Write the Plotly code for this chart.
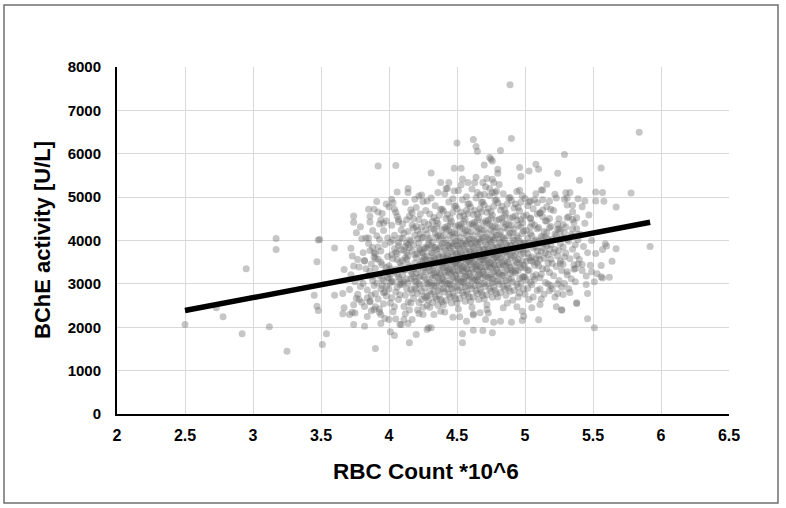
import plotly.graph_objects as go

# ---- data: (RBC count *10^6, BChE activity U/L) ----
edge_points = [
    (2.50,2062),(2.73,2448),(2.78,2240),(2.92,1848),(2.95,3349),(3.12,2009),(3.17,3795),(3.17,4048),
    (3.25,1446),(3.45,2739),(3.47,2485),(3.48,2386),(3.47,3510),(3.48,4009),(3.51,1600),(3.54,1848),
    (3.49,4025),(3.60,3825),(3.60,2739),(3.66,2778),(3.67,2448),(3.66,2309),(3.71,2293),(3.73,2347),
    (3.74,2062),(3.82,2023),(3.67,3333),(3.74,3410),(3.82,3525),(3.86,3772),(3.90,1508),(3.94,2085),
    (3.94,2293),(4.00,2178),(4.01,1894),(4.04,1808),(4.15,1640),(4.20,1831),(4.28,1947),(4.31,1986),
    (4.08,2062),(4.14,2085),(4.11,2178),(4.17,2178),(4.22,2316),(4.25,2293),(4.33,2293),(4.38,2370),
    (4.47,2231),(4.57,2139),(4.62,2309),(4.67,2332),(4.72,2409),(4.54,1640),(4.54,1848),(4.62,1931),
    (4.69,1924),(4.76,1871),(4.71,2178),(4.77,2116),(4.82,2139),(4.90,2116),(4.98,2155),(4.99,2254),
    (4.98,2370),(4.94,2471),(4.84,2448),(5.10,2171),(5.11,2524),(5.05,2448),(5.23,2471),(5.27,2401),
    (5.24,2778),(5.28,2755),(5.32,2887),(5.38,2547),(5.45,2986),(5.46,2194),(5.51,1986),(5.51,3048),
    (5.49,3282),(5.53,3236),(5.56,3166),(5.57,3135),(5.62,3150),(5.56,3425),(5.64,3524),(5.52,3702),
    (5.57,3794),(5.59,3926),(5.60,3871),(5.67,3810),(5.92,3864),(5.42,3448),(5.37,3356),(5.36,3441),
    (5.31,3279),(5.26,3471),(5.67,4771),(5.58,4903),(5.57,5104),(5.78,5095),(5.56,5672),(5.84,6497),
    (5.52,5118),(5.52,4910),(5.44,4910),(5.35,4811),(5.39,4965),(5.33,5104),(5.31,4980),(5.30,5100),
    (5.22,5065),(5.29,4949),(5.18,4903),(5.19,4718),(5.13,4702),(5.04,4903),(5.09,4873),(5.04,4510),
    (5.11,4626),(5.13,4550),(5.24,4372),(5.25,4272),(5.18,4296),(5.16,4448),(5.31,4527),(5.35,4487),
    (5.38,4527),(5.35,4272),(5.39,4141),(5.35,4102),(5.31,4025),(5.12,5165),(5.13,5165),(4.96,5157),
    (5.16,5296),(5.40,5388),(5.24,5550),(5.29,5981),(5.10,5642),(5.08,5757),(5.03,5603),(4.96,5681),
    (4.97,5473),(4.80,5642),(4.80,5550),(4.76,5830),(4.75,5873),(4.70,5741),(4.82,6074),(4.90,6351),
    (4.89,7589),(4.50,6250),(4.62,6328),(4.64,6166),(4.65,6058),(4.74,5912),(4.53,5665),(4.48,5665),
    (4.31,5557),(4.05,5727),(3.92,5718),(4.06,5118),(4.14,5196),(4.14,5104),(4.22,5026),(4.19,4949),
    (4.28,4910),(4.02,4949),(3.74,4564),(3.89,4718),(3.92,4656),(3.86,4425),(3.79,4318),(3.80,4041),
    (3.85,4055),(3.93,4025),(3.96,4395),(3.98,4448),(4.04,4718),(4.07,4487),(4.38,5335),(4.42,5196),
    (4.44,5335),(4.48,5141),(4.58,5335),(4.36,5104),(4.69,5335),(4.72,5427),(4.76,5411),(4.77,5335),
    (4.65,5104),(4.70,5065),(4.76,5104),(4.79,5141),(3.76,2670),(3.80,2578),(3.84,2679),(3.86,2601),
    (3.89,2409),(3.90,2471),(3.93,2347),(3.89,3718),(3.90,3580),(3.88,3178),(3.95,3118),(3.98,2947),
    (3.96,2794),(4.01,3025),(4.09,2062),(4.29,1986),(5.27,2393),(5.38,2563),
]

core_low = [
    (3.71,2870),(3.72,3210),(3.73,3640),(3.74,2520),(3.75,3050),(3.76,4180),(3.77,2760),(3.78,3390),
    (3.79,2940),(3.72,3820),(3.75,2330),(3.77,3560),(3.79,3130),(3.74,4420),(3.78,2640),
    (3.81,3010),(3.81,3720),(3.82,2480),(3.83,3350),(3.83,4060),(3.84,2860),(3.85,3190),(3.85,3930),
    (3.86,2590),(3.86,4560),(3.87,3460),(3.87,2740),(3.88,3080),(3.88,4230),(3.89,3620),(3.89,2960),
    (3.82,3540),(3.84,2250),(3.85,4720),(3.86,3290),(3.88,3840),(3.87,2380),
    (3.90,3360),(3.90,2780),(3.91,4110),(3.91,3020),(3.92,3570),(3.92,2650),(3.93,4380),(3.93,3190),
    (3.94,2890),(3.94,3760),(3.95,4620),(3.95,3440),(3.96,2540),(3.96,3080),(3.97,3910),(3.97,3280),
    (3.98,4840),(3.98,2720),(3.99,3630),(3.99,3150),(3.91,4900),(3.92,3850),(3.93,2420),(3.94,3500),
    (3.95,2960),(3.96,4230),(3.97,2810),(3.98,3380),(3.99,4060),(3.90,3700),(3.94,4470),(3.97,2200),
    (4.00,3420),(4.00,2880),(4.01,3960),(4.01,3210),(4.02,4350),(4.02,2680),(4.03,3580),(4.03,3050),
    (4.04,4120),(4.04,2470),(4.05,3730),(4.05,3340),(4.06,2920),(4.06,4560),(4.07,3160),(4.07,3880),
    (4.08,2750),(4.08,3490),(4.09,4240),(4.09,3020),(4.00,4780),(4.01,2560),(4.02,3670),(4.03,4010),
    (4.04,3280),(4.05,2810),(4.06,3560),(4.07,4430),(4.08,3100),(4.09,3790),(4.01,3350),(4.03,2360),
    (4.05,4650),(4.06,3230),(4.07,2640),(4.08,4050),(4.09,3420),(4.02,3060),(4.04,3810),(4.06,3700),
    (4.08,2980),(4.00,3140),(4.03,4870),(4.05,2190),(4.07,3950),
    (4.10,3540),(4.10,2990),(4.11,4170),(4.11,3320),(4.12,2740),(4.12,3860),(4.13,4480),(4.13,3110),
    (4.14,3650),(4.14,2580),(4.15,4020),(4.15,3390),(4.16,2870),(4.16,4710),(4.17,3230),(4.17,3760),
    (4.18,4290),(4.18,2660),(4.19,3480),(4.19,3070),(4.10,4380),(4.11,2480),(4.12,3600),(4.13,3940),
    (4.14,3020),(4.15,4560),(4.16,3290),(4.17,2790),(4.18,3900),(4.19,4120),(4.10,3210),(4.11,3770),
    (4.12,4880),(4.13,2890),(4.14,3440),(4.15,2400),(4.16,3980),(4.17,4350),(4.18,3160),(4.19,3680),
    (4.11,3050),(4.12,2310),(4.13,3570),(4.14,4210),(4.15,3830),(4.16,2560),(4.17,4640),(4.18,3350),
    (4.19,2920),(4.10,4050),(4.12,3330),(4.14,3900),(4.16,3120),(4.18,4500),(4.13,3720),
    (4.20,3610),(4.20,3050),(4.21,4230),(4.21,2780),(4.22,3420),(4.22,3940),(4.23,4610),(4.23,3180),
    (4.24,2640),(4.24,3720),(4.25,4080),(4.25,3300),(4.26,2900),(4.26,4420),(4.27,3560),(4.27,3850),
    (4.28,2720),(4.28,4150),(4.29,3390),(4.29,3000),(4.20,4760),(4.21,3330),(4.22,2570),(4.23,3780),
    (4.24,4310),(4.25,3560),(4.26,3150),(4.27,4690),(4.28,3470),(4.29,3900),(4.20,2880),(4.21,3690),
    (4.22,4480),(4.23,2980),(4.24,3520),(4.25,2460),(4.26,3810),(4.27,3100),(4.28,3640),(4.29,4370),
    (4.20,3240),(4.21,4040),(4.22,3160),(4.23,3450),(4.24,2830),(4.25,4900),(4.26,3620),(4.27,2680),
    (4.28,3020),(4.29,4010),(4.21,2400),(4.23,4150),(4.25,3720),(4.27,3270),(4.29,2620),(4.22,3820),
    (4.24,4060),(4.26,3380),(4.28,2500),(4.20,4320),(4.24,5050),(4.26,2720),(4.28,3830),(4.22,3010),
    (4.27,4250),
]

core_mid = [
    (4.30,3550),(4.30,3040),(4.31,4280),(4.31,2760),(4.32,3710),(4.32,3330),(4.33,4530),(4.33,2960),
    (4.34,3840),(4.34,3180),(4.35,4080),(4.35,2650),(4.36,3490),(4.36,4390),(4.37,3070),(4.37,3620),
    (4.38,4720),(4.38,2880),(4.39,3380),(4.39,3930),(4.30,4610),(4.31,3470),(4.32,2570),(4.33,3600),
    (4.34,4170),(4.35,3270),(4.36,2840),(4.37,4010),(4.38,3500),(4.39,3120),(4.30,2830),(4.31,3880),
    (4.32,4440),(4.33,3250),(4.34,2700),(4.35,3780),(4.36,3150),(4.37,4580),(4.38,3230),(4.39,4250),
    (4.30,3310),(4.31,2970),(4.32,3960),(4.33,3420),(4.34,4800),(4.35,3020),(4.36,3680),(4.37,2730),
    (4.38,3860),(4.39,2590),(4.30,4050),(4.31,3720),(4.32,3130),(4.33,4260),(4.34,3560),(4.35,4460),
    (4.36,2510),(4.37,3390),(4.38,4100),(4.39,3640),(4.30,2460),(4.32,3550),(4.34,2950),(4.36,4120),
    (4.38,2640),(4.31,4980),(4.33,3830),(4.35,3510),(4.37,3240),(4.39,4720),(4.31,3200),(4.33,2820),
    (4.35,4320),(4.37,3810),(4.39,3010),
    (4.40,3620),(4.40,3090),(4.41,4300),(4.41,2810),(4.42,3760),(4.42,3410),(4.43,4600),(4.43,3000),
    (4.44,3880),(4.44,3260),(4.45,4120),(4.45,2700),(4.46,3530),(4.46,4440),(4.47,3150),(4.47,3700),
    (4.48,4790),(4.48,2930),(4.49,3450),(4.49,3990),(4.40,4680),(4.41,3520),(4.42,2620),(4.43,3650),
    (4.44,4230),(4.45,3330),(4.46,2890),(4.47,4080),(4.48,3560),(4.49,3200),(4.40,2880),(4.41,3940),
    (4.42,4510),(4.43,3310),(4.44,2760),(4.45,3830),(4.46,3220),(4.47,4650),(4.48,3290),(4.49,4320),
    (4.40,3370),(4.41,3030),(4.42,4020),(4.43,3480),(4.44,4890),(4.45,3080),(4.46,3740),(4.47,2790),
    (4.48,3920),(4.49,2650),(4.40,4110),(4.41,3780),(4.42,3190),(4.43,4330),(4.44,3610),(4.45,4520),
    (4.46,2560),(4.47,3440),(4.48,4170),(4.49,3700),(4.40,2520),(4.42,3600),(4.44,3010),(4.46,4190),
    (4.48,2710),(4.41,5080),(4.43,3890),(4.45,3570),(4.47,3300),(4.49,4800),(4.41,3260),(4.43,2880),
    (4.45,4380),(4.47,3870),(4.49,3060),(4.40,3500),(4.42,4260),(4.44,3350),(4.46,3950),(4.48,3470),
    (4.41,2350),(4.43,5200),(4.45,2980),(4.47,4960),(4.49,3560),
    (4.50,3680),(4.50,3130),(4.51,4350),(4.51,2850),(4.52,3800),(4.52,3450),(4.53,4650),(4.53,3050),
    (4.54,3920),(4.54,3300),(4.55,4160),(4.55,2740),(4.56,3580),(4.56,4490),(4.57,3190),(4.57,3740),
    (4.58,4840),(4.58,2970),(4.59,3500),(4.59,4030),(4.50,4730),(4.51,3560),(4.52,2660),(4.53,3700),
    (4.54,4280),(4.55,3380),(4.56,2930),(4.57,4120),(4.58,3610),(4.59,3240),(4.50,2920),(4.51,3990),
    (4.52,4560),(4.53,3360),(4.54,2800),(4.55,3870),(4.56,3270),(4.57,4700),(4.58,3340),(4.59,4370),
    (4.50,3410),(4.51,3080),(4.52,4070),(4.53,3520),(4.54,4940),(4.55,3120),(4.56,3790),(4.57,2830),
    (4.58,3970),(4.59,2690),(4.50,4160),(4.51,3820),(4.52,3230),(4.53,4380),(4.54,3660),(4.55,4570),
    (4.56,2600),(4.57,3490),(4.58,4220),(4.59,3750),(4.50,2560),(4.52,3650),(4.54,3060),(4.56,4240),
    (4.58,2760),(4.51,5150),(4.53,3940),(4.55,3620),(4.57,3350),(4.59,4850),(4.51,3300),(4.53,2920),
    (4.55,4430),(4.57,3920),(4.59,3100),(4.50,3550),(4.52,4310),(4.54,3400),(4.56,4000),(4.58,3520),
    (4.51,2420),(4.53,5280),(4.55,3030),(4.57,5010),(4.59,3610),(4.52,2240),(4.54,5420),(4.56,3170),
    (4.58,4620),(4.50,3880),
    (4.60,3720),(4.60,3170),(4.61,4390),(4.61,2890),(4.62,3840),(4.62,3490),(4.63,4690),(4.63,3090),
    (4.64,3960),(4.64,3340),(4.65,4200),(4.65,2780),(4.66,3620),(4.66,4530),(4.67,3230),(4.67,3780),
    (4.68,4880),(4.68,3010),(4.69,3540),(4.69,4070),(4.60,4770),(4.61,3600),(4.62,2700),(4.63,3740),
    (4.64,4320),(4.65,3420),(4.66,2970),(4.67,4160),(4.68,3650),(4.69,3280),(4.60,2960),(4.61,4030),
    (4.62,4600),(4.63,3400),(4.64,2840),(4.65,3910),(4.66,3310),(4.67,4740),(4.68,3380),(4.69,4410),
    (4.60,3450),(4.61,3120),(4.62,4110),(4.63,3560),(4.64,4980),(4.65,3160),(4.66,3830),(4.67,2870),
    (4.68,4010),(4.69,2730),(4.60,4200),(4.61,3860),(4.62,3270),(4.63,4420),(4.64,3700),(4.65,4610),
    (4.66,2640),(4.67,3530),(4.68,4260),(4.69,3790),(4.60,2600),(4.62,3690),(4.64,3100),(4.66,4280),
    (4.68,2800),(4.61,5190),(4.63,3980),(4.65,3660),(4.67,3390),(4.69,4890),(4.61,3340),(4.63,2960),
    (4.65,4470),(4.67,3960),(4.69,3140),(4.60,3590),(4.62,4350),(4.64,3440),(4.66,4040),(4.68,3560),
    (4.61,2460),(4.63,5330),(4.65,3070),(4.67,5050),(4.69,3650),(4.62,2280),(4.64,5460),(4.66,3210),
    (4.68,4660),(4.60,3920),
]

core_high = [
    (4.70,3780),(4.70,3220),(4.71,4450),(4.71,2940),(4.72,3900),(4.72,3550),(4.73,4740),(4.73,3150),
    (4.74,4010),(4.74,3390),(4.75,4250),(4.75,2830),(4.76,3680),(4.76,4580),(4.77,3280),(4.77,3830),
    (4.78,4930),(4.78,3060),(4.79,3600),(4.79,4120),(4.70,4820),(4.71,3650),(4.72,2750),(4.73,3800),
    (4.74,4370),(4.75,3470),(4.76,3020),(4.77,4210),(4.78,3700),(4.79,3330),(4.70,3010),(4.71,4080),
    (4.72,4650),(4.73,3450),(4.74,2890),(4.75,3960),(4.76,3360),(4.77,4790),(4.78,3430),(4.79,4460),
    (4.70,3500),(4.71,3170),(4.72,4160),(4.73,3610),(4.74,5030),(4.75,3210),(4.76,3880),(4.77,2920),
    (4.78,4060),(4.79,2780),(4.70,4250),(4.71,3910),(4.72,3320),(4.73,4470),(4.74,3750),(4.75,4660),
    (4.76,2690),(4.77,3580),(4.78,4310),(4.79,3840),(4.70,2650),(4.72,3740),(4.74,3150),(4.76,4330),
    (4.78,2850),(4.71,5240),(4.73,4030),(4.75,3710),(4.77,3440),(4.79,4940),(4.71,3390),(4.73,3010),
    (4.75,4520),(4.77,4010),(4.79,3190),(4.70,3640),(4.72,4400),(4.74,3490),(4.76,4090),(4.78,3610),
    (4.72,2520),(4.74,5200),(4.76,3120),(4.78,5100),(4.73,2330),
    (4.80,3830),(4.80,3270),(4.81,4490),(4.81,2990),(4.82,3950),(4.82,3600),(4.83,4790),(4.83,3200),
    (4.84,4060),(4.84,3440),(4.85,4300),(4.85,2880),(4.86,3730),(4.86,4630),(4.87,3330),(4.87,3880),
    (4.88,4980),(4.88,3110),(4.89,3650),(4.89,4170),(4.80,4870),(4.81,3700),(4.82,2800),(4.83,3850),
    (4.84,4420),(4.85,3520),(4.86,3070),(4.87,4260),(4.88,3750),(4.89,3380),(4.80,3060),(4.81,4130),
    (4.82,4700),(4.83,3500),(4.84,2940),(4.85,4010),(4.86,3410),(4.87,4840),(4.88,3480),(4.89,4510),
    (4.80,3550),(4.81,3220),(4.82,4210),(4.83,3660),(4.84,5080),(4.85,3260),(4.86,3930),(4.87,2970),
    (4.88,4110),(4.89,2830),(4.80,4300),(4.81,3960),(4.82,3370),(4.83,4520),(4.84,3800),(4.85,4710),
    (4.86,2740),(4.87,3630),(4.88,4360),(4.89,3890),(4.80,2700),(4.82,3790),(4.84,3200),(4.86,4380),
    (4.88,2900),(4.81,5290),(4.83,4080),(4.85,3760),(4.87,3490),(4.89,4990),(4.81,3440),(4.83,3060),
    (4.85,4570),(4.87,2560),(4.89,3240),
    (4.90,3880),(4.90,3320),(4.91,4540),(4.91,3040),(4.92,4000),(4.92,3650),(4.93,4840),(4.93,3250),
    (4.94,4110),(4.94,3490),(4.95,4350),(4.95,2930),(4.96,3780),(4.96,4680),(4.97,3380),(4.97,3930),
    (4.98,5030),(4.98,3160),(4.99,3700),(4.99,4220),(4.90,4920),(4.91,3750),(4.92,2850),(4.93,3900),
    (4.94,4470),(4.95,3570),(4.96,3120),(4.97,4310),(4.98,3800),(4.99,3430),(4.90,3110),(4.91,4180),
    (4.92,4750),(4.93,3550),(4.94,2990),(4.95,4060),(4.96,3460),(4.97,4890),(4.98,3530),(4.99,4560),
    (4.90,3600),(4.91,3270),(4.92,4260),(4.93,3710),(4.94,5130),(4.95,3310),(4.96,3980),(4.97,3020),
    (4.98,4160),(4.99,2880),(4.90,4350),(4.91,4010),(4.92,3420),(4.93,4570),(4.94,3850),(4.95,4760),
    (4.96,2790),(4.97,3680),(4.98,4410),(4.99,3940),(4.91,2620),(4.93,3300),(4.95,2700),(4.97,4480),
    (4.99,3170),
    (5.00,3930),(5.00,3370),(5.01,4590),(5.01,3090),(5.02,4050),(5.02,3700),(5.03,4890),(5.03,3300),
    (5.04,4160),(5.04,3540),(5.05,4400),(5.05,2980),(5.06,3830),(5.06,4730),(5.07,3430),(5.07,3980),
    (5.08,5080),(5.08,3210),(5.09,3750),(5.09,4270),(5.00,4970),(5.01,3800),(5.02,2900),(5.03,3950),
    (5.04,4520),(5.05,3620),(5.06,3170),(5.07,4360),(5.08,3850),(5.09,3480),(5.00,3160),(5.01,4230),
    (5.02,4800),(5.03,3600),(5.04,3040),(5.05,4110),(5.06,3510),(5.07,4940),(5.08,3580),(5.09,4610),
    (5.00,2760),(5.02,3320),(5.04,4310),(5.06,2700),(5.08,4020),(5.01,3520),(5.03,2640),(5.05,3900),
    (5.07,3100),(5.09,2850),
    (5.10,3980),(5.10,3420),(5.11,4640),(5.11,3140),(5.12,4100),(5.12,3750),(5.13,4940),(5.13,3350),
    (5.14,4210),(5.14,3590),(5.15,4450),(5.15,3030),(5.16,3880),(5.16,4780),(5.17,3480),(5.17,4030),
    (5.18,3260),(5.18,3800),(5.19,4320),(5.19,2960),(5.10,3650),(5.11,2880),(5.12,3220),(5.13,4070),
    (5.14,2760),(5.15,3710),(5.16,4180),(5.17,3000),(5.18,4510),(5.19,3570),(5.10,4300),(5.12,2650),
    (5.14,3920),(5.16,3350),(5.18,2840),(5.11,3560),(5.13,3830),(5.15,4080),(5.17,3680),(5.19,3900),
    (5.20,4030),(5.20,3470),(5.21,4690),(5.21,3190),(5.22,4150),(5.22,3800),(5.23,3400),(5.23,4980),
    (5.24,3640),(5.24,4260),(5.25,3080),(5.25,4500),(5.26,3930),(5.26,3530),(5.27,4080),(5.27,3310),
    (5.28,3850),(5.28,4370),(5.29,3010),(5.29,3620),(5.20,2890),(5.21,3720),(5.22,2700),(5.23,4120),
    (5.24,3000),(5.25,3770),(5.26,4230),(5.27,2920),(5.28,3450),(5.29,4180),
    (5.30,3710),(5.30,4310),(5.31,3210),(5.32,3980),(5.32,4550),(5.33,3580),(5.34,3120),(5.34,4140),
    (5.35,3800),(5.35,4660),(5.36,3340),(5.37,3900),(5.37,3050),(5.38,4270),(5.38,3650),(5.39,3460),
    (5.39,4020),(5.31,4820),(5.33,2800),(5.36,4420),
    (5.40,3560),(5.41,4140),(5.42,3310),(5.43,3860),(5.44,4400),(5.45,3180),(5.46,3720),(5.47,4590),
    (5.48,3430),(5.49,4000),(5.42,4780),(5.46,2780),
]

# trendline end points as drawn in the reference
trend_rbc = [2.50, 5.92]
trend_bche = [2385, 4420]

x_ticks = [2, 2.5, 3, 3.5, 4, 4.5, 5, 5.5, 6, 6.5]
x_tick_text = ["2", "2.5", "3", "3.5", "4", "4.5", "5", "5.5", "6", "6.5"]
y_ticks = [0, 1000, 2000, 3000, 4000, 5000, 6000, 7000, 8000]

all_points = edge_points + core_low + core_mid + core_high
rbc = [p[0] for p in all_points]
bche = [p[1] for p in all_points]

W, H = 786, 508
ML, MR, MT, MB = 117, 57, 67, 94
PW, PH = W - ML - MR, H - MT - MB


def px_to_paper(px, py):
    return (px - ML) / PW, (H - MB - py) / PH


fig = go.Figure()
fig.add_trace(go.Scatter(
    x=rbc, y=bche, mode="markers",
    marker=dict(size=7, color="rgba(105,105,105,0.38)", line=dict(width=0)),
    showlegend=False, hoverinfo="x+y",
))
fig.add_trace(go.Scatter(
    x=trend_rbc, y=trend_bche, mode="lines",
    line=dict(color="black", width=5.5),
    showlegend=False,
))

font_family = "Liberation Sans, Arial, sans-serif"
fig.update_xaxes(
    range=[2, 6.5], tickvals=x_ticks, ticktext=x_tick_text,
    showgrid=True, gridcolor="#d9d9d9", gridwidth=1, zeroline=False,
    showline=True, linecolor="black", linewidth=2, ticks="",
    tickfont=dict(family=font_family, size=16, color="black", weight="bold"),
    ticklabelstandoff=6,
)
fig.update_yaxes(
    range=[0, 8000], tickvals=y_ticks,
    showgrid=True, gridcolor="#d9d9d9", gridwidth=1, zeroline=False,
    showline=True, linecolor="black", linewidth=2, ticks="",
    tickfont=dict(family=font_family, size=15, color="black", weight="bold"),
    ticklabelstandoff=11,
)

x0, y0 = px_to_paper(4, 503)
x1, y1 = px_to_paper(778, 5)
fig.add_shape(type="rect", xref="paper", yref="paper", x0=x0, y0=y0, x1=x1, y1=y1,
              line=dict(color="#6f6f6f", width=1.5), layer="below")

tx, ty = px_to_paper(426, 471)
fig.add_annotation(xref="paper", yref="paper", x=tx, y=ty, text="<b>RBC Count *10^6</b>",
                   showarrow=False, xanchor="center", yanchor="middle",
                   font=dict(family=font_family, size=22.5, color="black"))
tx, ty = px_to_paper(42, 240)
fig.add_annotation(xref="paper", yref="paper", x=tx, y=ty, text="<b>BChE activity [U/L]</b>",
                   showarrow=False, xanchor="center", yanchor="middle", textangle=-90,
                   font=dict(family=font_family, size=22, color="black"))

fig.update_layout(
    width=W, height=H, autosize=False,
    margin=dict(l=ML, r=MR, t=MT, b=MB, pad=0),
    paper_bgcolor="white", plot_bgcolor="white",
)

fig.write_html("out.html", config={"displayModeBar": False},
               post_script="document.body.style.margin='0';")
